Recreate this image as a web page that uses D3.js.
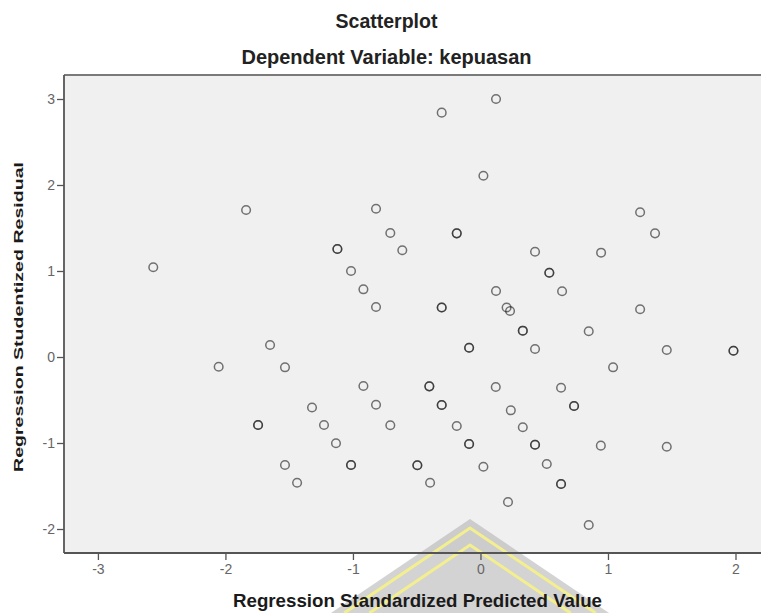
<!DOCTYPE html>
<html>
<head>
<meta charset="utf-8">
<script src="https://cdn.jsdelivr.net/npm/d3@7"></script>
<style>
    body { margin: 0; background: #fff; }
    text { font-family: Arial, "Liberation Sans", sans-serif; }
</style>
</head>
<body>
<script>
// values (duplicates = overlapping cases, drawn darker)
var predicted = [-2.566, -1.838, -0.304, 0.122, 0.023, -0.819, -0.707, -0.186, -0.186, -1.122, -1.122,
    -0.613, 0.428, -1.015, 0.540, 0.540, -0.918, 0.122, -0.819, -0.304, -0.304, 0.205, 0.232, 0.640,
    1.252, 1.369, 0.946, 1.252, 0.849, 1.461, 1.984, 1.984, -1.650, -2.053, -1.533, -1.321, -1.744,
    -1.744, -1.533, -1.438, 0.332, 0.332, -0.089, -0.089, 0.428, -0.918, -0.401, -0.401, 0.120, 0.632,
    -0.819, -0.304, -0.304, 0.238, -1.227, -0.707, -0.186, 0.332, -1.133, -0.089, -0.089, 0.428, 0.428,
    -1.015, -1.015, -0.495, -0.495, 0.023, 0.520, -0.395, 0.632, 0.632, 0.216, 1.040, 0.734, 0.734,
    0.944, 1.461, 0.849];
var residual = [1.043, 1.709, 2.841, 3.000, 2.108, 1.724, 1.442, 1.438, 1.438, 1.256, 1.256,
    1.241, 1.224, 1.000, 0.980, 0.980, 0.787, 0.767, 0.581, 0.576, 0.576, 0.576, 0.535, 0.764,
    1.683, 1.438, 1.213, 0.555, 0.299, 0.081, 0.073, 0.073, 0.140, -0.113, -0.120, -0.587, -0.791,
    -0.791, -1.256, -1.462, 0.306, 0.306, 0.108, 0.108, 0.093, -0.337, -0.341, -0.341, -0.349, -0.357,
    -0.555, -0.558, -0.558, -0.620, -0.791, -0.794, -0.802, -0.817, -1.003, -1.012, -1.012, -1.020, -1.020,
    -1.256, -1.256, -1.259, -1.259, -1.276, -1.244, -1.462, -1.477, -1.477, -1.686, -0.120, -0.570, -0.570,
    -1.031, -1.043, -1.953];
var xTicks = [-3, -2, -1, 0, 1, 2];
var yTicks = [-2, -1, 0, 1, 2, 3];
var titleText = 'Scatterplot';
var subtitleText = 'Dependent Variable: kepuasan';
var xLabel = 'Regression Standardized Predicted Value';
var yLabel = 'Regression Studentized Residual';

(function() {
    var w = 761,
        h = 613;
    var plot = {left: 64, right: 761, top: 75, bottom: 553};

    var svg = d3.select('body')
        .append('svg')
        .attr('width', w)
        .attr('height', h);

    var xScale = d3.scaleLinear()
        .domain([-3.266, 2.2])
        .range([plot.left, plot.right]);
    var yScale = d3.scaleLinear()
        .domain([-2.279, 3.279])
        .range([plot.bottom, plot.top]);

    // plot background
    svg.append('rect')
        .attr('x', plot.left)
        .attr('y', plot.top)
        .attr('width', plot.right - plot.left)
        .attr('height', plot.bottom - plot.top)
        .attr('fill', '#f0f0f0');

    // watermark logo sitting over the lower part of the picture
    var apexX = 470, slope = 0.676;
    var chevron = function(apexY) {
        var dx = (h - apexY) / slope;
        return [[apexX - dx, h], [apexX, apexY], [apexX + dx, h]];
    };
    var mark = svg.append('g').attr('class', 'watermark');
    mark.append('polygon')
        .attr('points', chevron(519).join(' '))
        .attr('fill', '#a8a8a8')
        .attr('fill-opacity', 0.5);
    [528, 545].forEach(function(ay) {
        mark.append('polyline')
            .attr('points', chevron(ay).join(' '))
            .attr('fill', 'none')
            .attr('stroke', '#f4ef8e')
            .attr('stroke-width', 3);
    });

    // top border
    svg.append('line')
        .attr('x1', plot.left).attr('x2', plot.right)
        .attr('y1', plot.top).attr('y2', plot.top)
        .attr('stroke', '#7a7a7a')
        .attr('stroke-width', 2);

    // SPSS prints a plain hyphen for negatives
    var fmt = function(d) { return String(d); };
    var xAxis = svg.append('g')
        .attr('transform', 'translate(0,' + plot.bottom + ')')
        .call(d3.axisBottom(xScale).tickValues(xTicks).tickSize(7).tickPadding(4).tickFormat(fmt));
    var yAxis = svg.append('g')
        .attr('transform', 'translate(' + plot.left + ',0)')
        .call(d3.axisLeft(yScale).tickValues(yTicks).tickSize(7).tickPadding(2).tickFormat(fmt));

    [xAxis, yAxis].forEach(function(ax) {
        ax.select('.domain').remove();
        ax.selectAll('.tick line').attr('stroke', '#555').attr('stroke-width', 1.3);
        ax.selectAll('.tick text')
            .attr('fill', '#666')
            .style('font-size', '14px')
            .style('font-family', 'Arial, "Liberation Sans", sans-serif');
    });

    // left and bottom axis lines
    svg.append('line')
        .attr('x1', plot.left).attr('x2', plot.left)
        .attr('y1', plot.top).attr('y2', plot.bottom)
        .attr('stroke', '#555')
        .attr('stroke-width', 1.8);
    svg.append('line')
        .attr('x1', plot.left).attr('x2', plot.right)
        .attr('y1', plot.bottom).attr('y2', plot.bottom)
        .attr('stroke', '#555')
        .attr('stroke-width', 1.8);

    // points
    svg.append('g')
        .selectAll('circle')
        .data(d3.range(predicted.length))
        .enter()
        .append('circle')
        .attr('cx', function(i) { return xScale(predicted[i]); })
        .attr('cy', function(i) { return yScale(residual[i]); })
        .attr('r', 4.3)
        .attr('fill', 'none')
        .attr('stroke', '#222')
        .attr('stroke-opacity', 0.62)
        .attr('stroke-width', 1.5);

    // titles
    svg.append('text')
        .attr('x', 386.5)
        .attr('y', 28)
        .attr('text-anchor', 'middle')
        .style('font-size', '19.5px')
        .style('font-weight', 'bold')
        .attr('fill', '#222')
        .text(titleText);
    svg.append('text')
        .attr('x', 386.5)
        .attr('y', 64)
        .attr('text-anchor', 'middle')
        .style('font-size', '20px')
        .style('font-weight', 'bold')
        .attr('fill', '#222')
        .text(subtitleText);

    // axis titles
    svg.append('text')
        .attr('x', 417.5)
        .attr('y', 607)
        .attr('text-anchor', 'middle')
        .attr('textLength', 369)
        .attr('lengthAdjust', 'spacingAndGlyphs')
        .style('font-size', '19px')
        .style('font-weight', 'bold')
        .attr('fill', '#1a1a1a')
        .text(xLabel);
    svg.append('text')
        .attr('transform', 'translate(23,317) rotate(-90)')
        .attr('text-anchor', 'middle')
        .attr('textLength', 310)
        .attr('lengthAdjust', 'spacingAndGlyphs')
        .style('font-size', '13.5px')
        .style('font-weight', 'bold')
        .attr('fill', '#1a1a1a')
        .text(yLabel);
})();
</script>
</body>
</html>
